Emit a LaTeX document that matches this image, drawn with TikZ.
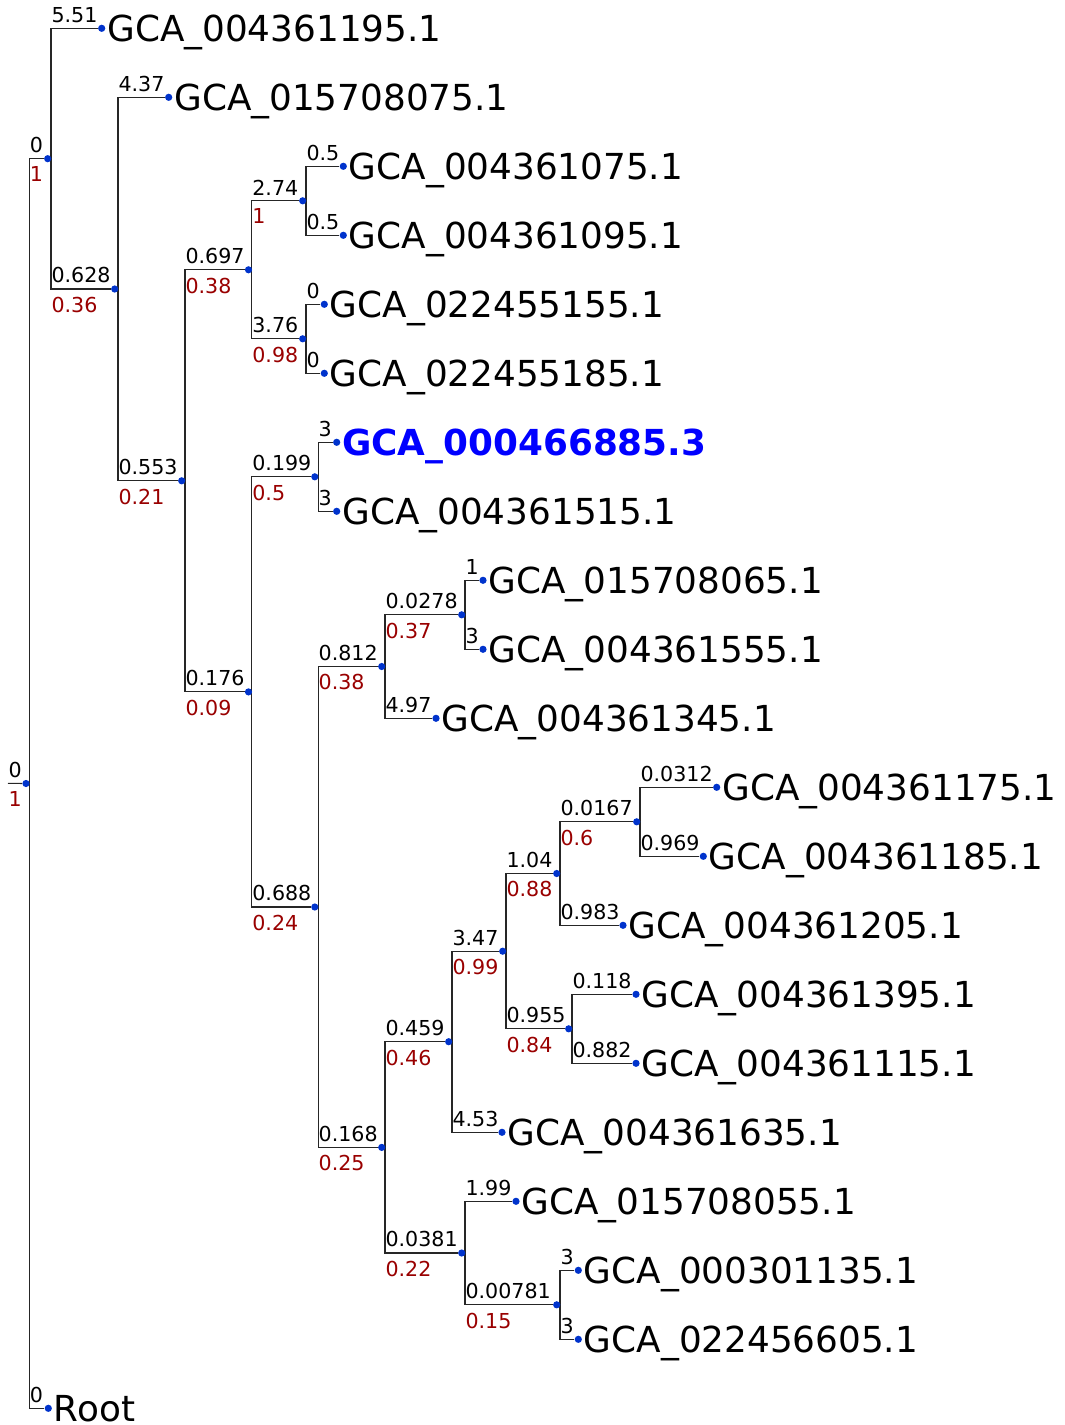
\documentclass[tikz,border=0pt]{standalone}
\usepackage{fontspec}
\setmainfont{DejaVu Sans}
\usetikzlibrary{backgrounds}
\definecolor{dotblue}{RGB}{0,51,204}
\definecolor{suppred}{RGB}{153,0,0}
\definecolor{hiblue}{RGB}{0,0,255}

\begin{document}
\begin{tikzpicture}[
        x=0.5pt, y=-0.5pt,
        dot/.style={circle,fill=dotblue,inner sep=0pt,minimum size=3.6pt},
        leaf/.style={anchor=base west,inner sep=0.6pt,yshift=-6.5pt,font=\fontsize{17.9}{20}\selectfont},
        blen/.style={anchor=south west,inner xsep=0pt,inner ysep=2.6pt,font=\fontsize{10.3}{12}\selectfont},
        supp/.style={anchor=north west,inner xsep=0pt,inner ysep=3.8pt,font=\fontsize{10.3}{12}\selectfont,text=suppred},
        edge/.style={draw=black!85,line width=0.55pt}
    ]
    \useasboundingbox (0,0) rectangle (1065,1425);

    % inner nodes
    \coordinate (top) at (8,783.3);
    \node [dot] (n0) at (26,783.5) {};
    \node [dot] (n1) at (47.7,158.7) {};
    \node [dot] (n2) at (114.7,289) {};
    \node [dot] (n3) at (181.7,480.8) {};
    \node [dot] (n4) at (248.5,269.8) {};
    \node [dot] (n5) at (302.7,200.8) {};
    \node [dot] (n6) at (302.7,338.8) {};
    \node [dot] (n7) at (248.5,691.9) {};
    \node [dot] (n8) at (314.8,476.8) {};
    \node [dot] (n9) at (314.8,907) {};
    \node [dot] (n10) at (381.7,666.5) {};
    \node [dot] (n11) at (461.7,614.8) {};
    \node [dot] (n12) at (381.7,1147.4) {};
    \node [dot] (n13) at (448.7,1041.7) {};
    \node [dot] (n14) at (502.7,951.2) {};
    \node [dot] (n15) at (556.7,873.5) {};
    \node [dot] (n16) at (636.7,821.8) {};
    \node [dot] (n17) at (568.7,1028.8) {};
    \node [dot] (n18) at (461.7,1253) {};
    \node [dot] (n19) at (556.7,1304.8) {};

    % tips
    \node [dot] (t1) at (101.7,28.3) {};
    \node [dot] (t2) at (168.7,97.3) {};
    \node [dot] (t3) at (343.3,166.3) {};
    \node [dot] (t4) at (343.3,235.3) {};
    \node [dot] (t5) at (324.3,304.3) {};
    \node [dot] (t6) at (324.3,373.3) {};
    \node [dot] (t7) at (336.7,442.3) {};
    \node [dot] (t8) at (336.7,511.3) {};
    \node [dot] (t9) at (483,580.3) {};
    \node [dot] (t10) at (483,649.3) {};
    \node [dot] (t11) at (436,718.3) {};
    \node [dot] (t12) at (716.7,787.3) {};
    \node [dot] (t13) at (703.3,856.3) {};
    \node [dot] (t14) at (623,925.3) {};
    \node [dot] (t15) at (636,994.3) {};
    \node [dot] (t16) at (636,1063.3) {};
    \node [dot] (t17) at (502,1132.3) {};
    \node [dot] (t18) at (516,1201.3) {};
    \node [dot] (t19) at (578.3,1270.3) {};
    \node [dot] (t20) at (578.3,1339.3) {};
    \node [dot] (t21) at (48.3,1408.3) {};

    \node [leaf] (g1) at (t1.east) {GCA\_004361195.1};
    \node [leaf] (g2) at (t2.east) {GCA\_015708075.1};
    \node [leaf] (g3) at (t3.east) {GCA\_004361075.1};
    \node [leaf] (g4) at (t4.east) {GCA\_004361095.1};
    \node [leaf] (g5) at (t5.east) {GCA\_022455155.1};
    \node [leaf] (g6) at (t6.east) {GCA\_022455185.1};
    \node [leaf,text=hiblue,font=\fontsize{17.9}{20}\selectfont\bfseries] (g7) at (t7.east) {GCA\_000466885.3};
    \node [leaf] (g8) at (t8.east) {GCA\_004361515.1};
    \node [leaf] (g9) at (t9.east) {GCA\_015708065.1};
    \node [leaf] (g10) at (t10.east) {GCA\_004361555.1};
    \node [leaf] (g11) at (t11.east) {GCA\_004361345.1};
    \node [leaf] (g12) at (t12.east) {GCA\_004361175.1};
    \node [leaf] (g13) at (t13.east) {GCA\_004361185.1};
    \node [leaf] (g14) at (t14.east) {GCA\_004361205.1};
    \node [leaf] (g15) at (t15.east) {GCA\_004361395.1};
    \node [leaf] (g16) at (t16.east) {GCA\_004361115.1};
    \node [leaf] (g17) at (t17.east) {GCA\_004361635.1};
    \node [leaf] (g18) at (t18.east) {GCA\_015708055.1};
    \node [leaf] (g19) at (t19.east) {GCA\_000301135.1};
    \node [leaf] (g20) at (t20.east) {GCA\_022456605.1};
    \node [leaf] (g21) at (t21.east) {Root};

    \begin{scope}[on background layer]
        \draw [edge] (top) -- node[pos=0,blen]{0} node[pos=0,supp]{1} (n0);
        \draw [edge] ([xshift=1.65pt]n0.center) |- node[blen]{0} node[supp]{1} (n1);
        \draw [edge] ([xshift=1.65pt]n0.center) |- node[blen]{0} (t21);
        \draw [edge] ([xshift=1.65pt]n1.center) |- node[blen]{5.51} (t1);
        \draw [edge] ([xshift=1.65pt]n1.center) |- node[blen]{0.628} node[supp]{0.36} (n2);
        \draw [edge] ([xshift=1.65pt]n2.center) |- node[blen]{4.37} (t2);
        \draw [edge] ([xshift=1.65pt]n2.center) |- node[blen]{0.553} node[supp]{0.21} (n3);
        \draw [edge] ([xshift=1.65pt]n3.center) |- node[blen]{0.697} node[supp]{0.38} (n4);
        \draw [edge] ([xshift=1.65pt]n3.center) |- node[blen]{0.176} node[supp]{0.09} (n7);
        \draw [edge] ([xshift=1.65pt]n4.center) |- node[blen]{2.74} node[supp]{1} (n5);
        \draw [edge] ([xshift=1.65pt]n4.center) |- node[blen]{3.76} node[supp]{0.98} (n6);
        \draw [edge] ([xshift=1.65pt]n5.center) |- node[blen]{0.5} (t3);
        \draw [edge] ([xshift=1.65pt]n5.center) |- node[blen]{0.5} (t4);
        \draw [edge] ([xshift=1.65pt]n6.center) |- node[blen]{0} (t5);
        \draw [edge] ([xshift=1.65pt]n6.center) |- node[blen]{0} (t6);
        \draw [edge] ([xshift=1.65pt]n7.center) |- node[blen]{0.199} node[supp]{0.5} (n8);
        \draw [edge] ([xshift=1.65pt]n7.center) |- node[blen]{0.688} node[supp]{0.24} (n9);
        \draw [edge] ([xshift=1.65pt]n8.center) |- node[blen]{3} (t7);
        \draw [edge] ([xshift=1.65pt]n8.center) |- node[blen]{3} (t8);
        \draw [edge] ([xshift=1.65pt]n9.center) |- node[blen]{0.812} node[supp]{0.38} (n10);
        \draw [edge] ([xshift=1.65pt]n9.center) |- node[blen]{0.168} node[supp]{0.25} (n12);
        \draw [edge] ([xshift=1.65pt]n10.center) |- node[blen]{0.0278} node[supp]{0.37} (n11);
        \draw [edge] ([xshift=1.65pt]n10.center) |- node[blen]{4.97} (t11);
        \draw [edge] ([xshift=1.65pt]n11.center) |- node[blen]{1} (t9);
        \draw [edge] ([xshift=1.65pt]n11.center) |- node[blen]{3} (t10);
        \draw [edge] ([xshift=1.65pt]n12.center) |- node[blen]{0.459} node[supp]{0.46} (n13);
        \draw [edge] ([xshift=1.65pt]n12.center) |- node[blen]{0.0381} node[supp]{0.22} (n18);
        \draw [edge] ([xshift=1.65pt]n13.center) |- node[blen]{3.47} node[supp]{0.99} (n14);
        \draw [edge] ([xshift=1.65pt]n13.center) |- node[blen]{4.53} (t17);
        \draw [edge] ([xshift=1.65pt]n14.center) |- node[blen]{1.04} node[supp]{0.88} (n15);
        \draw [edge] ([xshift=1.65pt]n14.center) |- node[blen]{0.955} node[supp]{0.84} (n17);
        \draw [edge] ([xshift=1.65pt]n15.center) |- node[blen]{0.0167} node[supp]{0.6} (n16);
        \draw [edge] ([xshift=1.65pt]n15.center) |- node[blen]{0.983} (t14);
        \draw [edge] ([xshift=1.65pt]n16.center) |- node[blen]{0.0312} (t12);
        \draw [edge] ([xshift=1.65pt]n16.center) |- node[blen]{0.969} (t13);
        \draw [edge] ([xshift=1.65pt]n17.center) |- node[blen]{0.118} (t15);
        \draw [edge] ([xshift=1.65pt]n17.center) |- node[blen]{0.882} (t16);
        \draw [edge] ([xshift=1.65pt]n18.center) |- node[blen]{1.99} (t18);
        \draw [edge] ([xshift=1.65pt]n18.center) |- node[blen]{0.00781} node[supp]{0.15} (n19);
        \draw [edge] ([xshift=1.65pt]n19.center) |- node[blen]{3} (t19);
        \draw [edge] ([xshift=1.65pt]n19.center) |- node[blen]{3} (t20);
    \end{scope}
\end{tikzpicture}
\end{document}
